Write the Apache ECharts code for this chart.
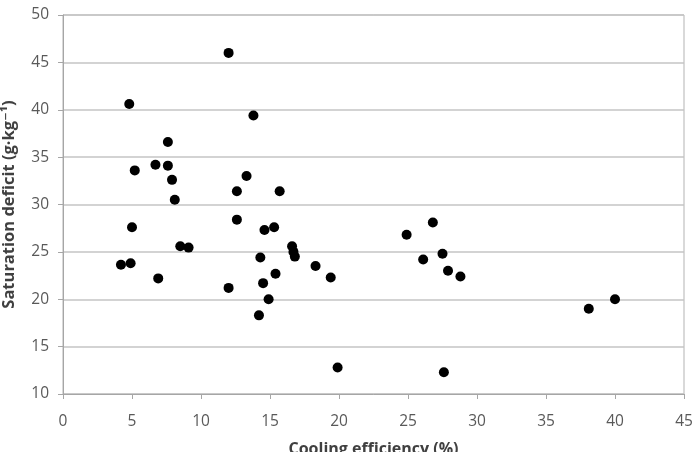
<!DOCTYPE html>
<html>
<head>
<meta charset="utf-8">
<script src="https://cdn.jsdelivr.net/npm/echarts@6/dist/echarts.min.js"></script>
<style>
html,body{margin:0;padding:0;background:#fff;}
#chart{width:697px;height:452px;}
</style>
</head>
<body>
<div id="chart"></div>
<script>
var coolingEfficiency = [12.0, 4.8, 13.8, 7.6, 5.2, 6.7, 7.6, 7.9, 8.1, 13.3, 12.6, 15.7, 12.6, 5.0, 14.6, 15.3,
  4.2, 4.9, 6.9, 8.5, 9.1, 12.0, 14.3, 14.5, 15.4, 14.9, 14.2, 16.6, 16.7, 16.8, 18.3, 19.4, 19.9,
  26.8, 24.9, 26.1, 27.5, 27.9, 28.8, 38.1, 40.0, 27.6];
var saturationDeficit = [46.0, 40.6, 39.4, 36.6, 33.6, 34.2, 34.1, 32.6, 30.5, 33.0, 31.4, 31.4, 28.4, 27.6, 27.3, 27.6,
  23.65, 23.8, 22.2, 25.6, 25.45, 21.2, 24.4, 21.7, 22.7, 20.0, 18.3, 25.6, 25.0, 24.5, 23.5, 22.3, 12.8,
  28.1, 26.8, 24.2, 24.8, 23.0, 22.4, 19.0, 20.0, 12.3];
var xTitle = 'Cooling efficiency (%)';
var yTitle = 'Saturation deficit (g\u00B7kg\u207B\u00B9)';

var points = coolingEfficiency.map(function(x, i){ return [x, saturationDeficit[i]]; });

var chart = echarts.init(document.getElementById('chart'));
var fontFam = '"Open Sans", "DejaVu Sans", sans-serif';
chart.setOption({
  animation: false,
  grid: {left: 63, right: 13, top: 15, bottom: 58, containLabel: false, outerBoundsMode: 'none',
         show: true, borderColor: '#b3b3b3', borderWidth: 1},
  xAxis: {
    type: 'value', min: 0, max: 45, interval: 5,
    name: xTitle, nameLocation: 'middle', nameGap: 47,
    nameTextStyle: {fontFamily: fontFam, fontSize: 16, fontWeight: 'bold', color: '#404040'},
    axisLine: {show: true, lineStyle: {color: '#a6a6a6'}},
    axisTick: {show: true, length: 5, lineStyle: {color: '#a6a6a6'}},
    axisLabel: {fontFamily: fontFam, fontSize: 15.5, color: '#595959', margin: 20},
    splitLine: {show: false}
  },
  yAxis: {
    type: 'value', min: 10, max: 50, interval: 5,
    name: yTitle, nameLocation: 'middle', nameGap: 45,
    nameTextStyle: {fontFamily: fontFam, fontSize: 16.5, fontWeight: 'bold', color: '#404040'},
    axisLine: {show: true, lineStyle: {color: '#a6a6a6'}},
    axisTick: {show: true, length: 5, lineStyle: {color: '#a6a6a6'}},
    axisLabel: {fontFamily: fontFam, fontSize: 15.5, color: '#595959', margin: 14},
    splitLine: {show: true, lineStyle: {color: '#c4c4c4', width: 1.5}}
  },
  series: [{
    type: 'scatter',
    data: points,
    symbol: 'circle',
    symbolSize: 10,
    itemStyle: {color: '#000000', opacity: 1}
  }]
});
</script>
</body>
</html>
